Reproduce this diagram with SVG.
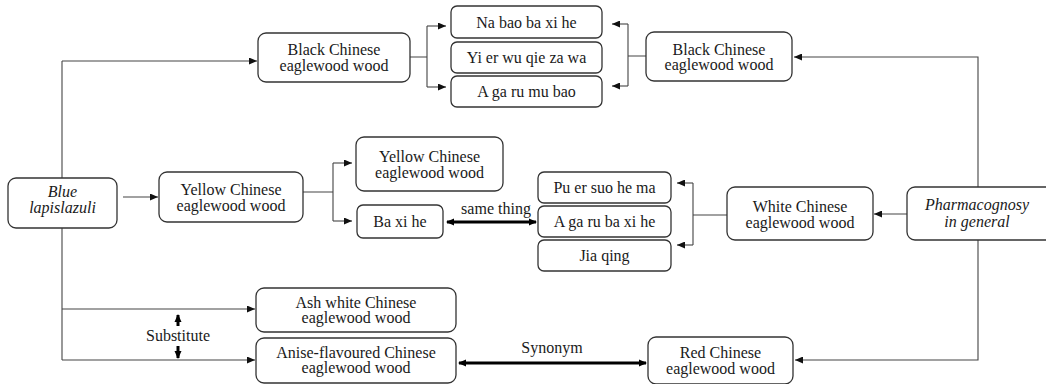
<svg xmlns="http://www.w3.org/2000/svg" width="1046" height="384" viewBox="0 0 1046 384" font-family="Liberation Serif" font-size="16">
<defs>
<style>
.box{fill:#fff;stroke:#333;stroke-width:1.3}
.t{font-family:'Liberation Serif',serif;font-size:16px;fill:#1a1a1a;text-anchor:middle}
.i{font-style:italic}
.c{fill:none;stroke:#444;stroke-width:1.1}
.k{fill:none;stroke:#000;stroke-width:3}
</style>
<marker id="a" markerUnits="userSpaceOnUse" markerWidth="8" markerHeight="7" refX="8" refY="3.5" orient="auto"><path d="M0,0 L8,3.5 L0,7 z" fill="#111"/></marker>
<marker id="ak" markerUnits="userSpaceOnUse" markerWidth="8" markerHeight="8" refX="7" refY="4" orient="auto-start-reverse"><path d="M0,0.5 L8,4 L0,7.5 z" fill="#000"/></marker>
</defs>
<rect width="1046" height="384" fill="#fff"/>
<g id="connectors">
<path class="c" d="M62,61 V360"/>
<path class="c" d="M62,61 H257" marker-end="url(#a)"/>
<path class="c" d="M62,309 H255" marker-end="url(#a)"/>
<path class="c" d="M62,360 H255" marker-end="url(#a)"/>
<path class="c" d="M123,197 H158" marker-end="url(#a)"/>
<path class="c" d="M303,192 H333 M333,163 V221"/>
<path class="c" d="M333,163 H352" marker-end="url(#a)"/>
<path class="c" d="M333,221 H352" marker-end="url(#a)"/>
<path class="c" d="M410,57 H427 M427,26 V87"/>
<path class="c" d="M427,26 H446" marker-end="url(#a)"/>
<path class="c" d="M427,87 H446" marker-end="url(#a)"/>
<path class="c" d="M646,56 H628 M628,24 V86"/>
<path class="c" d="M628,24 H612" marker-end="url(#a)"/>
<path class="c" d="M628,86 H612" marker-end="url(#a)"/>
<path class="c" d="M978,187 V57 H794" marker-end="url(#a)"/>
<path class="c" d="M907,214 H874" marker-end="url(#a)"/>
<path class="c" d="M978,240 V360 H795" marker-end="url(#a)"/>
<path class="c" d="M727,215 H693 M693,183 V245"/>
<path class="c" d="M693,183 H677" marker-end="url(#a)"/>
<path class="c" d="M693,245 H677" marker-end="url(#a)"/>
<path class="k" d="M447,222 H536" marker-start="url(#ak)" marker-end="url(#ak)"/>
<path class="k" d="M459,363 H646" marker-start="url(#ak)" marker-end="url(#ak)"/>
<path class="k" d="M178,326 V315" marker-end="url(#ak)"/>
<path class="k" d="M178,346 V358" marker-end="url(#ak)"/>
<text class="t" x="496" y="214">same thing</text>
<text class="t" x="552" y="353">Synonym</text>
<text class="t" x="178" y="341">Substitute</text>
</g>
<g id="blue"><rect class="box" x="8" y="178" width="109" height="50" rx="8"/><text class="t i" x="62.5" y="197">Blue</text><text class="t i" x="62.5" y="213">lapislazuli</text></g>
<g id="black-left"><rect class="box" x="258" y="33" width="152" height="49" rx="8"/><text class="t" x="334" y="55">Black Chinese</text><text class="t" x="334" y="70.5">eaglewood wood</text></g>
<g id="nabao"><rect class="box" x="451" y="6" width="151" height="32" rx="6"/><text class="t" x="526.5" y="27.5">Na bao ba xi he</text></g>
<g id="yier"><rect class="box" x="451" y="42" width="151" height="31" rx="6"/><text class="t" x="526.5" y="63">Yi er wu qie za wa</text></g>
<g id="agarumubao"><rect class="box" x="451" y="76" width="151" height="31" rx="6"/><text class="t" x="526.5" y="97">A ga ru mu bao</text></g>
<g id="black-right"><rect class="box" x="646" y="32" width="146" height="49" rx="8"/><text class="t" x="719" y="54.5">Black Chinese</text><text class="t" x="719" y="70">eaglewood wood</text></g>
<g id="yellow-left"><rect class="box" x="159" y="172" width="144" height="50" rx="8"/><text class="t" x="231" y="195">Yellow Chinese</text><text class="t" x="231" y="210.5">eaglewood wood</text></g>
<g id="yellow-upper"><rect class="box" x="356" y="137" width="147" height="54" rx="8"/><text class="t" x="429.5" y="162">Yellow Chinese</text><text class="t" x="429.5" y="177.5">eaglewood wood</text></g>
<g id="baxihe"><rect class="box" x="357" y="205" width="86" height="33" rx="6"/><text class="t" x="400" y="227">Ba xi he</text></g>
<g id="puer"><rect class="box" x="538" y="172" width="133" height="31" rx="6"/><text class="t" x="604.5" y="193">Pu er suo he ma</text></g>
<g id="agarubaxihe"><rect class="box" x="538" y="206" width="133" height="31" rx="6"/><text class="t" x="604.5" y="227">A ga ru ba xi he</text></g>
<g id="jiaqing"><rect class="box" x="538" y="240" width="133" height="31" rx="6"/><text class="t" x="604.5" y="261">Jia qing</text></g>
<g id="white"><rect class="box" x="727" y="187" width="146" height="53" rx="8"/><text class="t" x="800" y="212">White Chinese</text><text class="t" x="800" y="227.5">eaglewood wood</text></g>
<g id="pharmacognosy"><rect class="box" x="907" y="187" width="150" height="53" rx="8"/><text class="t i" x="977" y="210">Pharmacognosy</text><text class="t i" x="977" y="226.5">in general</text></g>
<g id="ashwhite"><rect class="box" x="256" y="288" width="200" height="44" rx="8"/><text class="t" x="356" y="307.5">Ash white Chinese</text><text class="t" x="356" y="323">eaglewood wood</text></g>
<g id="anise"><rect class="box" x="256" y="338" width="200" height="45" rx="8"/><text class="t" x="356" y="357.5">Anise-flavoured Chinese</text><text class="t" x="356" y="373">eaglewood wood</text></g>
<g id="red"><rect class="box" x="648" y="337" width="145" height="47" rx="8"/><text class="t" x="720.5" y="358">Red Chinese</text><text class="t" x="720.5" y="373.5">eaglewood wood</text></g>
</svg>
